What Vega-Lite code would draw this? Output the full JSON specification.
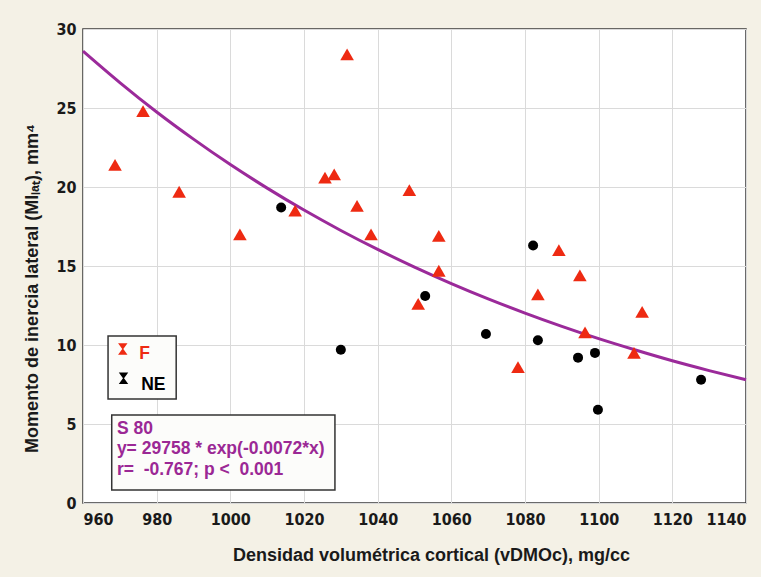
{
  "$schema": "https://vega.github.io/schema/vega-lite/v6.json",
  "width": 663,
  "height": 474,
  "autosize": {"type": "none"},
  "padding": {"left": 83, "top": 29, "right": 15, "bottom": 74},
  "background": "#f4f1e6",
  "config": {
    "view": {"fill": "#ffffff", "stroke": "#3a3a3a", "strokeWidth": 1.5},
    "axis": {
      "domain": false,
      "ticks": false,
      "grid": true,
      "gridColor": "#dadada",
      "gridWidth": 1,
      "labelFont": "DejaVu Sans Condensed, Liberation Sans Narrow, Arial, sans-serif",
      "labelFontWeight": "bold",
      "labelFontSize": 16,
      "labelColor": "#1a1a1a",
      "titleFont": "Liberation Sans, Arial, sans-serif",
      "titleFontWeight": "bold",
      "titleFontSize": 18,
      "titleColor": "#1a1a1a"
    }
  },
  "datasets": {
    "pts": [
      {"group": "F", "x": 968.7, "y": 21.4},
      {"group": "F", "x": 976.3, "y": 24.8},
      {"group": "F", "x": 986.1, "y": 19.7},
      {"group": "F", "x": 1002.6, "y": 17.0},
      {"group": "F", "x": 1017.6, "y": 18.5},
      {"group": "F", "x": 1025.7, "y": 20.6},
      {"group": "F", "x": 1028.2, "y": 20.8},
      {"group": "F", "x": 1031.7, "y": 28.4},
      {"group": "F", "x": 1034.4, "y": 18.8},
      {"group": "F", "x": 1038.2, "y": 17.0},
      {"group": "F", "x": 1048.6, "y": 19.8},
      {"group": "F", "x": 1056.6, "y": 16.9},
      {"group": "F", "x": 1056.6, "y": 14.7},
      {"group": "F", "x": 1051.0, "y": 12.6},
      {"group": "F", "x": 1089.2, "y": 16.0},
      {"group": "F", "x": 1094.9, "y": 14.4},
      {"group": "F", "x": 1083.5, "y": 13.2},
      {"group": "F", "x": 1111.8, "y": 12.1},
      {"group": "F", "x": 1096.3, "y": 10.8},
      {"group": "F", "x": 1109.6, "y": 9.5},
      {"group": "F", "x": 1078.1, "y": 8.6},
      {"group": "NE", "x": 1013.8, "y": 18.7},
      {"group": "NE", "x": 1030.0, "y": 9.7},
      {"group": "NE", "x": 1052.9, "y": 13.1},
      {"group": "NE", "x": 1069.4, "y": 10.7},
      {"group": "NE", "x": 1082.2, "y": 16.3},
      {"group": "NE", "x": 1083.5, "y": 10.3},
      {"group": "NE", "x": 1094.4, "y": 9.2},
      {"group": "NE", "x": 1099.0, "y": 9.5},
      {"group": "NE", "x": 1099.8, "y": 5.9},
      {"group": "NE", "x": 1127.8, "y": 7.8}
    ],
    "curve": [
      {"x": 960, "y": 28.6}, {"x": 970, "y": 26.61}, {"x": 980, "y": 24.75},
      {"x": 990, "y": 23.03}, {"x": 1000, "y": 21.42}, {"x": 1010, "y": 19.93},
      {"x": 1020, "y": 18.54}, {"x": 1030, "y": 17.25}, {"x": 1040, "y": 16.05},
      {"x": 1050, "y": 14.93}, {"x": 1060, "y": 13.89}, {"x": 1070, "y": 12.92},
      {"x": 1080, "y": 12.02}, {"x": 1090, "y": 11.18}, {"x": 1100, "y": 10.40},
      {"x": 1110, "y": 9.68}, {"x": 1120, "y": 9.00}, {"x": 1130, "y": 8.38},
      {"x": 1140, "y": 7.80}
    ],
    "boxes": [
      {"x": 966.8, "x2": 985.3, "y": 10.57, "y2": 6.58},
      {"x": 967.8, "x2": 1028.4, "y": 5.57, "y2": 0.82}
    ],
    "legsym": [
      {"group": "F", "x": 970.8, "y": 9.75},
      {"group": "NE", "x": 971.0, "y": 7.9}
    ],
    "texts": [
      {"group": "F", "x": 975.3, "y": 9.45, "label": "F"},
      {"group": "NE", "x": 975.8, "y": 7.45, "label": "NE"},
      {"group": "stat", "x": 969.2, "y": 4.68, "label": "S 80"},
      {"group": "stat", "x": 969.2, "y": 3.42, "label": "y= 29758 * exp(-0.0072*x)"},
      {"group": "stat", "x": 969.2, "y": 2.12, "label": "r=\u00a0 -0.767; p <\u00a0 0.001"}
    ]
  },
  "layer": [
    {
      "data": {"name": "boxes"},
      "mark": {"type": "rect", "fill": "#fcfcfa", "stroke": "#333333", "strokeWidth": 1.5},
      "encoding": {
        "x": {"field": "x", "type": "quantitative", "scale": {"domain": [960, 1140], "nice": false, "zero": false},
              "axis": {"values": [960, 980, 1000, 1020, 1040, 1060, 1080, 1100, 1120, 1140], "format": "d", "title": "Densidad volumétrica cortical (vDMOc), mg/cc", "labelPadding": 8, "titlePadding": 19, "titleX": 348}},
        "x2": {"field": "x2"},
        "y": {"field": "y", "type": "quantitative", "scale": {"domain": [0, 30], "nice": false},
              "axis": {"values": [0, 5, 10, 15, 20, 25, 30], "format": "d", "title": "Momento de inercia lateral (MIₗₐₜ), mm⁴", "labelPadding": 7, "titlePadding": 14, "titleY": 259}},
        "y2": {"field": "y2"}
      }
    },
    {
      "data": {"name": "curve"},
      "mark": {"type": "line", "color": "#9b2a9a", "strokeWidth": 3, "interpolate": "monotone"},
      "encoding": {
        "x": {"field": "x", "type": "quantitative"},
        "y": {"field": "y", "type": "quantitative"}
      }
    },
    {
      "data": {"name": "pts"},
      "mark": {"type": "point", "filled": true, "opacity": 1},
      "encoding": {
        "x": {"field": "x", "type": "quantitative"},
        "y": {"field": "y", "type": "quantitative"},
        "shape": {"field": "group", "type": "nominal", "scale": {"domain": ["F", "NE"], "range": ["triangle-up", "circle"]}, "legend": null},
        "size": {"field": "group", "type": "nominal", "scale": {"domain": ["F", "NE"], "range": [185, 100]}, "legend": null},
        "color": {"field": "group", "type": "nominal", "scale": {"domain": ["F", "NE", "stat"], "range": ["#ee2a12", "#000000", "#9b2895"]}, "legend": null}
      }
    },
    {
      "data": {"name": "legsym"},
      "mark": {"type": "point", "filled": true, "opacity": 1, "shape": "M-0.9,-1.1H0.9L0.1,0L0.9,1.1H-0.9L-0.1,0Z", "size": 110},
      "encoding": {
        "x": {"field": "x", "type": "quantitative"},
        "y": {"field": "y", "type": "quantitative"},
        "color": {"field": "group", "type": "nominal", "legend": null}
      }
    },
    {
      "data": {"name": "texts"},
      "mark": {"type": "text", "align": "left", "baseline": "middle", "font": "Liberation Sans, Arial, sans-serif", "fontWeight": "bold", "fontSize": 17.5},
      "encoding": {
        "x": {"field": "x", "type": "quantitative"},
        "y": {"field": "y", "type": "quantitative"},
        "text": {"field": "label"},
        "color": {"field": "group", "type": "nominal", "legend": null}
      }
    }
  ]
}
